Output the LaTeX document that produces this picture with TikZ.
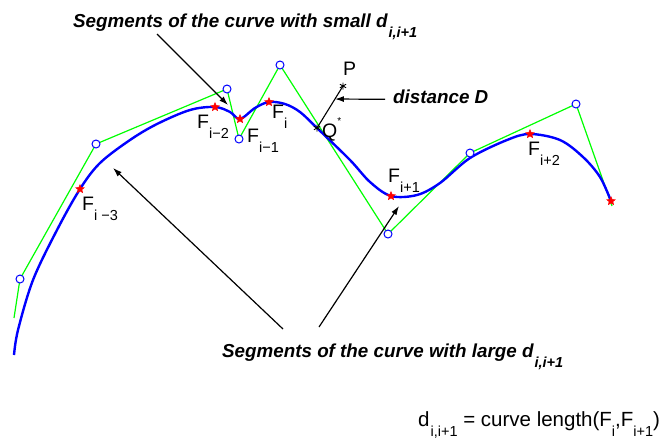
\documentclass[tikz,border=0pt]{standalone}
\usepackage{fontspec}
\setmainfont{Liberation Sans}
\usetikzlibrary{arrows.meta,shapes.geometric,plotmarks,calc}

\newcommand{\Fi}[1]{F\raisebox{-10pt}{\fontsize{14.5}{14.5}\selectfont #1}}
\newcommand{\dsub}[2]{d\kern1pt\raisebox{-10pt}{\fontsize{#1}{#1}\selectfont #2}}

\begin{document}
\begin{tikzpicture}[x=1pt, y=-1pt,
  ctrl/.style={green, line width=1.2pt},
  spline/.style={blue, line width=2.4pt},
  cpt/.style={circle, draw=blue, fill=white, line width=1pt, minimum size=8pt, inner sep=0pt},
  fpt/.style={star, star points=5, star point ratio=2.2, fill=red, draw=red, minimum size=9pt, inner sep=0pt},
  flab/.style={font=\fontsize{19.5}{20}\selectfont, anchor=base west, inner sep=0pt},
  lab/.style={font=\fontsize{18.8}{20}\selectfont\bfseries\itshape, anchor=base west, inner sep=0pt},
  arr/.style={-{Latex[length=9pt,width=6pt]}, line width=1.2pt}
]
\useasboundingbox (0,0) rectangle (662,440);

% control polygon
\foreach \n/\x/\y in {0/14/318,1/20/279,2/96/144,3/227/89,4/239/139,5/280/65,6/388/234,7/470/153,8/576/104,9/612/206}
  \coordinate (c\n) at (\x,\y);
\draw[ctrl] (c0) -- (c1) -- (c2) -- (c3) -- (c4) -- (c5) -- (c6) -- (c7) -- (c8) -- (c9);

% the curve
\draw[spline] plot[smooth, tension=0.55] coordinates {
  (14,355) (18,330) (33,280) (57,230) (80,189) (100,163) (130,140) (157,124)
  (190,110) (215,107) (230,112) (240,119) (255,108) (269,102) (285,104) (300,112)
  (317,128) (350,160) (370,182) (391,196) (417,195) (440,183) (470,158) (507,140)
  (530,134) (560,140) (583,157) (600,177) (611,201)};

\foreach \n in {1,...,8}
  \node[cpt] (m\n) at (c\n) {};
\foreach \n/\x/\y in {1/80/189,2/215/107,3/240/119,4/269/102,5/391/196,6/530/134,7/611/201}
  \node[fpt] (f\n) at (\x,\y) {};

% projection of P
\coordinate (Q) at (317,128);
\coordinate (P) at (343,86);
\draw[line width=1.1pt] (Q) -- (P);
\path plot[mark=asterisk, mark size=3.5pt, mark options={line width=0.9pt}] coordinates {(Q) (P)};

% labels on the curve
\node[flab] (lf1) at (82,210) {\Fi{i −3}};
\node[flab] (lf2) at (197,128) {\Fi{i−2}};
\node[flab] (lf3) at (247,142) {\Fi{i−1}};
\node[flab] (lf4) at (272,118) {\Fi{i}};
\node[flab] (lf5) at (388,182) {\Fi{i+1}};
\node[flab] (lf6) at (528,155) {\Fi{i+2}};
\node[flab] (lP) at (343,75) {P};
\node[flab] (lQ) at (322,137) {Q\raisebox{13pt}{\fontsize{10}{10}\selectfont *}};

% callouts
\node[lab] (small) at (73,27) {Segments of the curve with small \dsub{14.5}{i,i+1}};
\node[lab] (dist) at (393,103) {distance D};
\node[lab] (large) at (222,357) {Segments of the curve with large \dsub{14.5}{i,i+1}};
\coordinate (tS) at (157,34);
\coordinate (tL1) at (283,329);
\coordinate (tL2) at (319,327);
\coordinate (hS) at (228,105);
\coordinate (hL1) at (113,168);
\coordinate (hL2) at (399,206);
\coordinate (hD) at ($(Q)!0.69!(P)$);
\draw[arr] (tS) -- (hS);
\draw[arr] (tL1) -- (hL1);
\draw[arr] (tL2) -- (hL2);
\draw[arr] ([xshift=-8pt, yshift=-3pt]dist.west) -- (hD);

\node[flab, font=\fontsize{20.5}{21}\selectfont] (len) at (418,426)
  {\dsub{14.5}{i,i+1} = curve length(F\raisebox{-10pt}{\fontsize{14.5}{14.5}\selectfont i},F\raisebox{-10pt}{\fontsize{14.5}{14.5}\selectfont i+1})};
\end{tikzpicture}
\end{document}
